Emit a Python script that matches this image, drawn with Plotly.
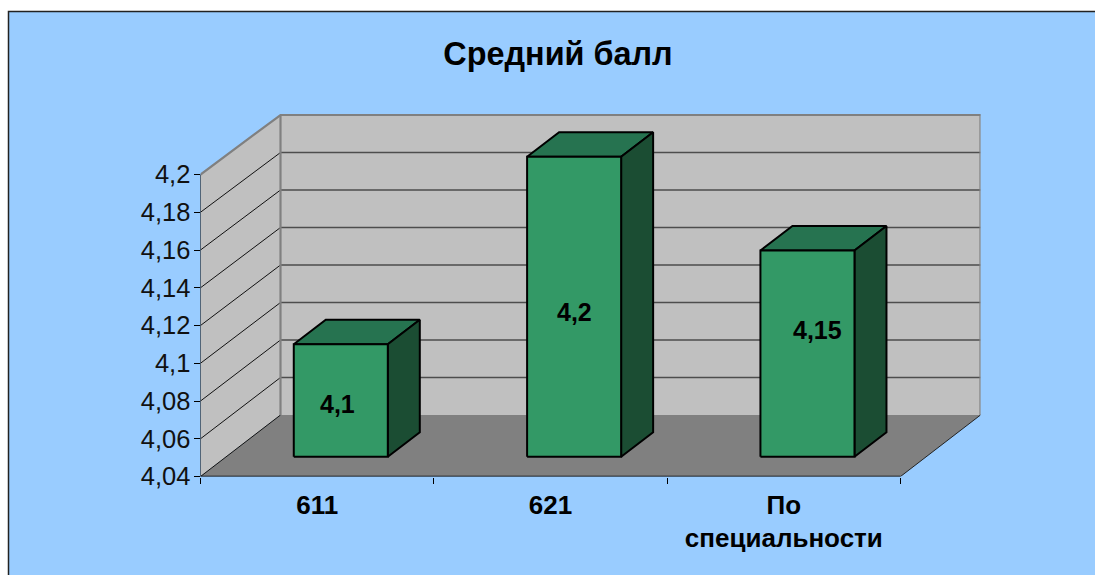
import plotly.graph_objects as go

categories = ["611", "621", "По<br>специальности"]
values = [4.1, 4.2, 4.15]
y_ticks = [4.04, 4.06, 4.08, 4.1, 4.12, 4.14, 4.16, 4.18, 4.2]
y_tick_labels = ["4,04", "4,06", "4,08", "4,1", "4,12", "4,14", "4,16", "4,18", "4,2"]
title = "Средний балл"

W, H = 1095, 575
X0, X1, Y0, Y1 = 200.5, 980.5, 476.5, 113.5   # pixel box of the axes
BLUE, WALL, FLOOR = "#99CCFF", "#C0C0C0", "#808080"
FRONT, TOP, SIDE = "#339966", "#267350", "#1B4D33"
FONT = "Liberation Sans, Arial, sans-serif"

base = y_ticks[0]
n = len(categories)
DX = 80 / 233.33                 # oblique depth, in x units
DY = 61.5 / (302 / 0.16)         # oblique depth, in y units
K = 300 / 302                    # slight shrink of heights behind the front edge


def back(v):
    return base + DY + (v - base) * K


def at(x, v, d):
    """project a point at depth d (0 front, 1 back)"""
    return x + d * DX, base + d * DY + (v - base) * K


fig = go.Figure()


def poly(pts, fill, line=None, width=0, close=True):
    xs = [p[0] for p in pts]
    ys = [p[1] for p in pts]
    if close:
        xs.append(xs[0])
        ys.append(ys[0])
    fig.add_trace(go.Scatter(
        x=xs, y=ys, mode="lines", cliponaxis=False, hoverinfo="skip", showlegend=False,
        fill="toself" if fill else "none", fillcolor=fill,
        line=dict(color=line or "rgba(0,0,0,0)", width=width),
    ))


top_v = y_ticks[-1]
# side wall, back wall, floor
poly([(0, base), (DX, back(base)), (DX, back(top_v)), (0, top_v)], WALL)
poly([(DX, back(base)), (n + DX, back(base)), (n + DX, back(top_v)), (DX, back(top_v))], WALL)
poly([(0, base), (n, base), (n + DX, back(base)), (DX, back(base))], FLOOR)

# grid
for v in y_ticks[1:-1]:
    poly([(DX, back(v)), (n + DX, back(v))], None, "#4d4d4d", 1.3, close=False)
for v in y_ticks[:-1]:
    poly([(0, v), (DX, back(v))], None, "#111111", 1, close=False)
poly([(DX, back(top_v)), (n + DX, back(top_v))], None, "#4d4d4d", 1.3, close=False)

# wall outlines
poly([(0, top_v), (DX, back(top_v)), (n + DX, back(top_v)), (n + DX, back(base))],
     None, FLOOR, 2.2, close=False)
poly([(DX, back(base)), (DX, back(top_v))], None, FLOOR, 2.2, close=False)
poly([(n, base), (n + DX, back(base))], None, "#222222", 1, close=False)

# bars
D0, D1, OFF, BW = 0.32, 0.72, 0.29, 0.403
for i, v in enumerate(values):
    l, r = i + OFF, i + OFF + BW
    poly([at(l, v, D0), at(r, v, D0), at(r, v, D1), at(l, v, D1)], TOP, "#000000", 2)
    poly([at(r, base, D0), at(r, base, D1), at(r, v, D1), at(r, v, D0)], SIDE, "#000000", 2)
    poly([at(l, base, D0), at(r, base, D0), at(r, v, D0), at(l, v, D0)], FRONT, "#000000", 2)

# axis lines
poly([(0, base), (0, top_v)], None, "#000000", 1, close=False)
poly([(0, base), (n, base)], None, "#000000", 1.3, close=False)

# data labels
shifts = [(-3, -3), (0, -5), (10, 24)]
for i, v in enumerate(values):
    xc, yc = at(i + OFF + BW / 2, (v + base) / 2, D0)
    fig.add_annotation(x=xc, y=yc, text=f"<b>{str(v).replace('.', ',')}</b>", showarrow=False,
                       xshift=shifts[i][0], yshift=shifts[i][1],
                       font=dict(family=FONT, size=25, color="#000000"))

fig.update_layout(
    width=W, height=H, margin=dict(l=0, r=0, t=0, b=0), autosize=False,
    paper_bgcolor="#FFFFFF", plot_bgcolor="rgba(0,0,0,0)", showlegend=False,
    title=dict(text=f"<b>{title}</b>", x=558 / W, xanchor="center", y=1 - 54 / H, yanchor="middle",
               font=dict(family=FONT, size=32.4, color="#000000")),
    xaxis=dict(domain=[X0 / W, X1 / W], range=[0, n + DX], showgrid=False, zeroline=False, automargin=False,
               tickmode="array", tickvals=[i + 0.5 for i in range(n)], ticktext=[f"<b>{c}</b>".replace("<br>", "</b><br><b>") for c in categories],
               ticks="", ticklabelstandoff=10,
               tickfont=dict(family=FONT, size=26, color="#000000"),
               minor=dict(tickmode="array", tickvals=list(range(n + 1)), ticks="outside", ticklen=6,
                          tickcolor="#000000", tickwidth=1, showgrid=False)),
    yaxis=dict(domain=[1 - Y0 / H, 1 - Y1 / H], range=[base, base + (Y0 - Y1) / (302 / 0.16)], automargin=False,
               showgrid=False, zeroline=False, tickmode="array", tickvals=y_ticks, ticktext=y_tick_labels,
               ticks="outside", ticklen=6, tickcolor="#000000", tickwidth=1, ticklabelstandoff=-2,
               tickfont=dict(family=FONT, size=25.5, color="#111111")),
    shapes=[dict(type="rect", xref="paper", yref="paper", x0=8.5 / W, x1=1.01, y0=-0.01, y1=1 - 11.5 / H,
                 fillcolor=BLUE, line=dict(color="#222222", width=1.5), layer="below")],
)
fig.write_html("out.html", config=dict(displayModeBar=False),
               post_script="document.body.style.margin='0';document.body.style.overflow='hidden';")
